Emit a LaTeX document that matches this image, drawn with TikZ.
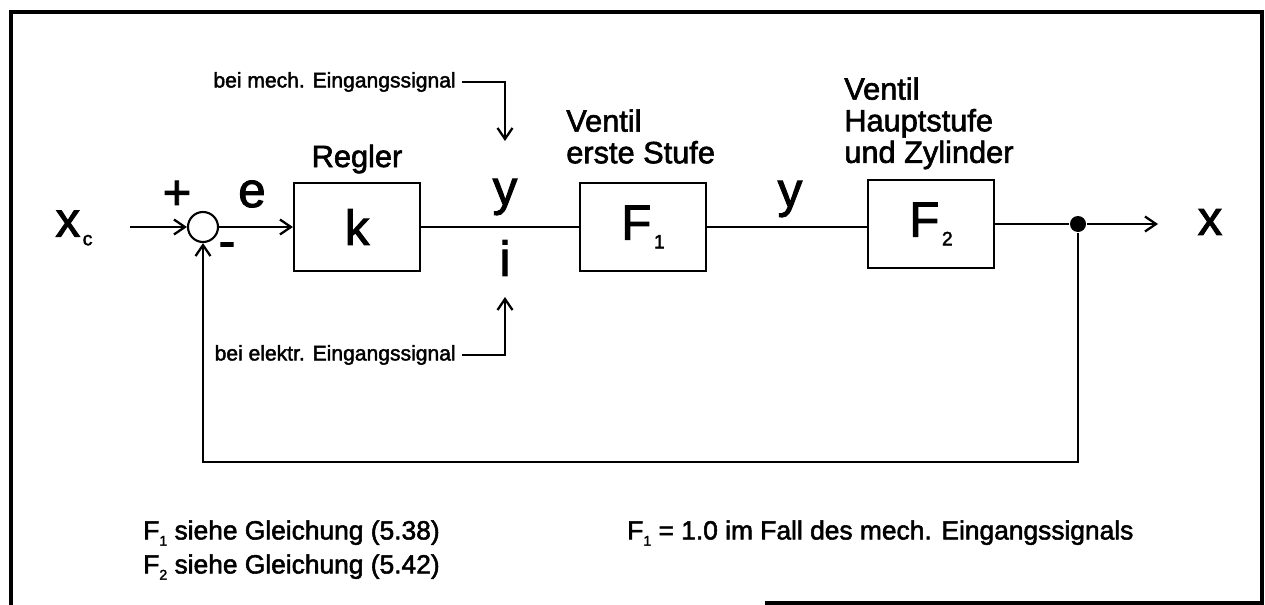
\documentclass[tikz,border=0pt]{standalone}
\usepackage{fontspec}
\setmainfont{Liberation Sans}[RawFeature={embolden=2}]
\usetikzlibrary{arrows.meta}

% large symbol with a lowered index
\newcommand{\tiefidx}[2]{#1\hspace{1.5pt}{\fontsize{11}{11}\selectfont\raisebox{-5pt}{#2}}}
\newcommand{\notidx}[2]{#1{\fontsize{8}{8}\selectfont\raisebox{-3.5pt}{#2}}}

\begin{document}
\begin{tikzpicture}[x=0.02cm,y=-0.02cm,line width=1.5pt,
	block/.style={draw,line width=1.2pt,minimum width=2.52cm,minimum height=1.76cm,inner sep=0pt,font=\fontsize{28}{30}\selectfont},
	sig/.style={-{Straight Barb[length=2.2mm,width=3mm,line width=1.3pt]}},
	gross/.style={font=\fontsize{28}{30}\selectfont,inner sep=0pt},
	titel/.style={font=\fontsize{17.5}{18}\selectfont,align=left,inner sep=0pt},
	klein/.style={font=\fontsize{12}{14}\selectfont,inner sep=0pt},
	notiz/.style={font=\fontsize{15}{17}\selectfont,inner sep=0pt,anchor=west}]
	\useasboundingbox (0,0) rectangle (1265,605);
	% frame
	\draw[line width=2pt] (765,603) -- (1262,603) -- (1262,12) -- (11,12) -- (11,605);

	% blocks
	\node[block] (regler) at (357,227) {k};
	\node[block] (ventil1) at (643,227) {\tiefidx{F}{1}};
	\node[block] (ventil2) at (931,224) {\tiefidx{F}{2}};
	\node[draw,circle,line width=1.2pt,minimum size=0.6cm,inner sep=0pt] (sum) at (203,227) {};
	\node[fill,circle,inner sep=0pt,minimum size=0.32cm] (dot) at (1078,224) {};

	% texts
	\node[gross] (xc) at (74,228) {\tiefidx{x}{c}};
	\node[gross] (xout) at (1210,222) {x};
	\node[gross] (plus) at (177,195) {+};
	\node[gross] (minus) at (227,250) {-};
	\node[gross] (e) at (252,194) {e};
	\node[gross] (y1) at (505,197) {y};
	\node[gross] (i) at (505,258) {i};
	\node[gross] (y2) at (790,199) {y};
	\node[titel,anchor=base] at (357,167) {Regler};
	\node[titel,anchor=north west] (t1) at (565,108) {Ventil\\erste Stufe};
	\node[titel,anchor=north west] (t2) at (843,76) {Ventil\\Hauptstufe\\und Zylinder};
	\node[klein,anchor=east] (mech) at (457,82) {bei mech. Eingangssignal};
	\node[klein,anchor=east] (elektr) at (457,355) {bei elektr. Eingangssignal};
	\node[notiz] (n1) at (142,533) {\notidx{F}{1} siehe Gleichung (5.38)};
	\node[notiz] (n2) at (142,567) {\notidx{F}{2} siehe Gleichung (5.42)};
	\node[notiz] (n3) at (626,533) {\notidx{F}{1} = 1.0 im Fall des mech. Eingangssignals};

	% free ends
	\coordinate (xin) at (130,227);
	\coordinate (mechtip) at (505,141);
	\coordinate (elektip) at (505,297);
	\coordinate (xtip) at (1158,224);
	\coordinate (fb) at (1078,462);

	% connectors
	\draw[sig] (xin) -- (sum.west);
	\draw[sig] (sum.east) -- (regler.west);
	\draw (regler.east) -- (ventil1.west);
	\draw (ventil1.east) -- (ventil1.east -| ventil2.west);
	\draw (ventil2.east) -- (dot);
	\draw[sig] (dot) -- (xtip);
	\draw[sig] (dot) -- (fb) -| (sum.south);
	\draw[sig,line width=1.2pt] (mech.east) ++(5,0) -| (mechtip);
	\draw[sig,line width=1.2pt] (elektr.east) ++(5,0) -| (elektip);
\end{tikzpicture}
\end{document}
